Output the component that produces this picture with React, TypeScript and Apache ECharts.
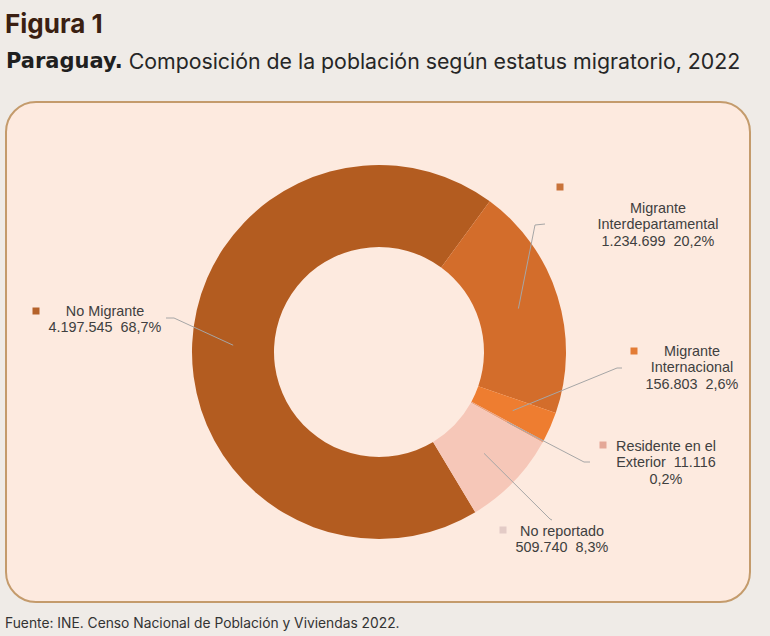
import React, { useEffect, useRef } from "react";
import * as echarts from "echarts";

const categories = [
  "No Migrante",
  "Migrante Interdepartamental",
  "Migrante Internacional",
  "Residente en el Exterior",
  "No reportado",
];
const values = [4197545, 1234699, 156803, 11116, 509740];
const labelNames = [
  "No Migrante",
  "Migrante\nInterdepartamental",
  "Migrante\nInternacional",
  "Residente en el\nExterior",
  "No reportado",
];
// whether the value goes on the same line as the name's last line
const valueOnNameLine = [false, false, false, true, false];

const sliceColors = ["#b35c20", "#d36d2b", "#ee7d30", "#e9a07e", "#f6c7b8"];
const keyColors = ["#b5622a", "#c8733a", "#e37c35", "#e4a898", "#e3cbc6"];

// label layout: [centerX, topY]
const labelPos: [number, number][] = [
  [105, 302.5],
  [658, 199.5],
  [692, 342.5],
  [666, 437.5],
  [562, 522.5],
];
// label-side leader line points
const leaderEnds: [number, number][][] = [
  [[174, 318], [166, 318]],
  [[535, 225], [545, 224]],
  [[617, 368], [622, 368]],
  [[584, 462], [590, 462]],
  [[550, 519], [552, 520]],
];
// legend key squares: [centerX, centerY]
const keyPos: [number, number][] = [
  [36, 311],
  [560, 187],
  [634, 351],
  [603, 445],
  [503, 530],
];

const fmtNum = (v: number) => String(v).replace(/\B(?=(\d{3})+(?!\d))/g, ".");

export default function App() {
  const ref = useRef<HTMLDivElement>(null);
  useEffect(() => {
    if (!ref.current) return;
    const chart = echarts.init(ref.current, null, { renderer: "svg" });
    const CX = 379;
    const CY = 352;
    const R0 = 105;
    const R = 187;
    const RM = (R0 + R) / 2;
    const START = -59;

    const pieData = categories.map((c, i) => ({
      name: c,
      value: values[i],
      itemStyle: { color: sliceColors[i] },
    }));

    const option: any = {
      animation: false,
      backgroundColor: "#efebe7",
      graphic: [
        {
          type: "rect",
          z: 0,
          silent: true,
          shape: { x: 6, y: 102, width: 744, height: 500, r: 30 },
          style: { fill: "#fdeadf", stroke: "#c49b6c", lineWidth: 2 },
        },
        {
          type: "text",
          x: 5,
          y: 23,
          style: {
            text: "Figura 1",
            font: "bold 26px Inter",
            fill: "#3b1f12",
            verticalAlign: "middle",
          },
        },
        {
          type: "text",
          x: 6,
          y: 61,
          style: {
            text: "{b|Paraguay.} {r|Composición de la población según estatus migratorio, 2022}",
            font: "21px Inter",
            fill: "#262626",
            verticalAlign: "middle",
            rich: {
              b: { fontWeight: "bold", fontSize: 21, fontFamily: "DejaVu Sans", fill: "#1f1f1f" },
              r: { fontSize: 21.3, fontFamily: "Inter", fill: "#262626" },
            },
          },
        },
        {
          type: "text",
          x: 5,
          y: 623,
          style: {
            text: "Fuente: INE. Censo Nacional de Población y Viviendas 2022.",
            font: "13.8px Inter",
            fill: "#333333",
            verticalAlign: "middle",
          },
        },
        ...keyPos.map((p, i) => ({
          type: "rect",
          z: 5,
          silent: true,
          shape: { x: p[0] - 3.5, y: p[1] - 3.5, width: 7, height: 7 },
          style: { fill: keyColors[i] },
        })),
      ],
      series: [
        {
          type: "pie",
          center: [CX, CY],
          radius: [R0, R],
          startAngle: START,
          clockwise: true,
          silent: true,
          z: 2,
          label: { show: false },
          labelLine: { show: false },
          data: pieData,
        },
        {
          type: "pie",
          center: [CX, CY],
          radius: [R0, R],
          startAngle: START,
          clockwise: true,
          percentPrecision: 1,
          avoidLabelOverlap: false,
          silent: true,
          z: 4,
          data: pieData.map((d) => ({
            name: d.name,
            value: d.value,
            itemStyle: { color: "rgba(0,0,0,0)" },
          })),
          label: {
            show: true,
            position: "outside",
            color: "#404040",
            fontFamily: "Liberation Sans",
            fontSize: 14.4,
            lineHeight: 16.5,
            align: "center",
            formatter: (p: any) => {
              const i = p.dataIndex;
              const v = fmtNum(p.value);
              const pct = p.percent.toFixed(1).replace(".", ",") + "%";
              return valueOnNameLine[i]
                ? `${labelNames[i]}  ${v}\n${pct}`
                : `${labelNames[i]}\n${v}  ${pct}`;
            },
          },
          labelLine: {
            show: true,
            lineStyle: { color: "#a6a6a6", width: 1 },
          },
          labelLayout: (params: any) => {
            const i = params.dataIndex;
            const data = chart.getModel().getSeriesByIndex(1).getData();
            const lay: any = data.getItemLayout(i);
            const mid = (lay.startAngle + lay.endAngle) / 2;
            const start = [lay.cx + RM * Math.cos(mid), lay.cy + RM * Math.sin(mid)];
            return {
              x: labelPos[i][0],
              y: labelPos[i][1],
              align: "center",
              verticalAlign: "top",
              labelLinePoints: [start, leaderEnds[i][0], leaderEnds[i][1]],
            };
          },
        },
      ],
    };
    chart.setOption(option);
    return () => chart.dispose();
  }, []);
  return (
    <div
      ref={ref}
      style={{ position: "absolute", left: 0, top: 0, width: 770, height: 636 }}
    />
  );
}
